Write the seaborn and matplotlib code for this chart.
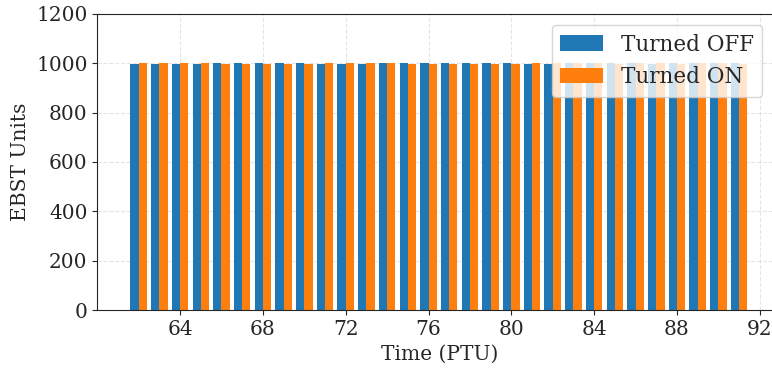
import pandas as pd
import matplotlib.pyplot as plt
import seaborn as sns

# time steps (PTU) and EBST units for both states
ptu = list(range(62, 92))
turned_off = [997, 997, 998, 997, 1001, 1001, 1001, 1000, 1000, 998,
              998, 997, 999, 1000, 1001, 1001, 1000, 1001, 1001, 998,
              998, 1000, 999, 1001, 1000, 998, 1000, 1001, 999, 1000]
turned_on = [1001, 1000, 1001, 1000, 998, 998, 998, 997, 997, 1001,
             1001, 1000, 1001, 998, 997, 998, 998, 998, 997, 1000,
             1001, 999, 1000, 998, 999, 1001, 998, 999, 1000, 998]
labels = ["Turned OFF", "Turned ON"]
colors = ["#1f77b4", "#ff7f0e"]

# long format for seaborn
df = pd.DataFrame({
    "ptu": ptu * 2,
    "units": turned_off + turned_on,
    "state": [labels[0]] * len(ptu) + [labels[1]] * len(ptu),
})

sns.set_style("ticks")
plt.rcParams["font.family"] = ["DejaVu Serif"]

fig = plt.figure(figsize=(7.72, 3.74), dpi=100)
# axes run past the right edge, like the cropped original
ax = fig.add_axes([0.126, 0.171, 0.886, 0.792])

sns.barplot(data=df, x="ptu", y="units", hue="state", native_scale=True,
            palette=colors, saturation=1, ax=ax, errorbar=None,
            linewidth=0, edgecolor="none")

ax.set_xlim(60, 93.04)
ax.set_ylim(0, 1200)
ax.set_xticks(range(64, 93, 4))
ax.set_yticks(range(0, 1201, 200))
ax.tick_params(labelsize=14.5)
ax.set_xlabel("Time (PTU)", fontsize=14.5)
ax.set_ylabel("EBST Units", fontsize=14.5)
ax.grid(True, linestyle="--", alpha=0.5)
ax.set_axisbelow(True)
ax.legend(title=None, loc="upper right", fontsize=15.5,
          bbox_to_anchor=(0.988, 0.999), handlelength=2.0)

plt.savefig("out.png", dpi=100)
